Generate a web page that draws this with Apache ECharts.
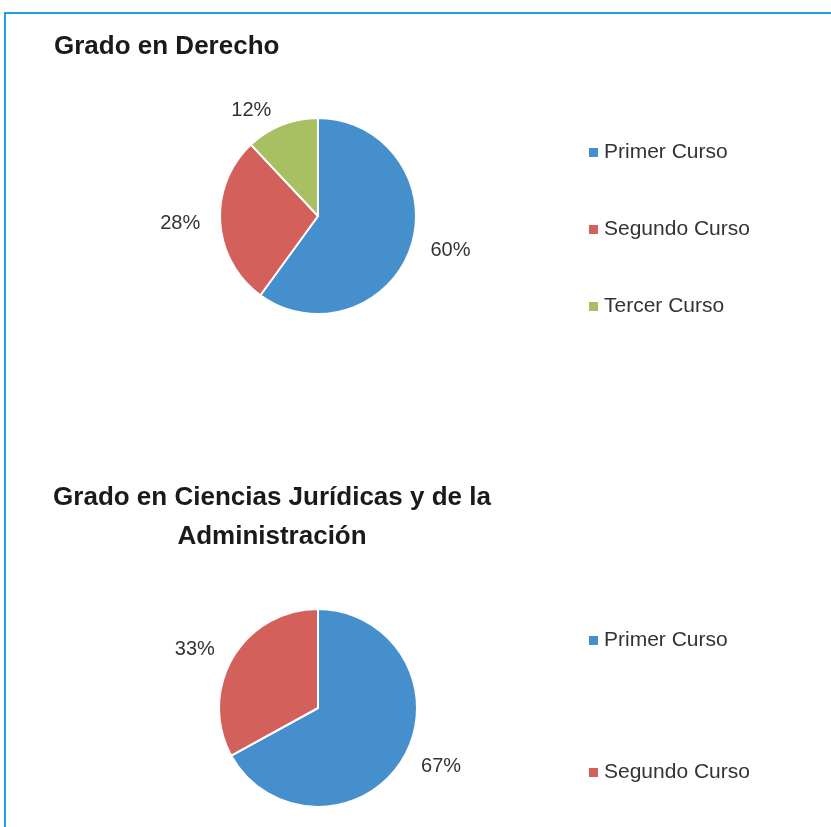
<!DOCTYPE html>
<html>
<head>
<meta charset="utf-8">
<script src="https://cdn.jsdelivr.net/npm/echarts@6/dist/echarts.min.js"></script>
<style>
  html, body { margin: 0; padding: 0; background: #ffffff; }
  #chart { width: 831px; height: 827px; }
</style>
</head>
<body>
<div id="chart"></div>
<script>
// data
var cursos = ['Primer Curso', 'Segundo Curso', 'Tercer Curso'];
var derecho = [60, 28, 12];
var cursosCJA = ['Primer Curso', 'Segundo Curso'];
var cienciasJA = [67, 33];
var titles = ['Grado en Derecho', 'Grado en Ciencias Jurídicas y de la\nAdministración'];

var colors = ['#4590cc', '#d4605b', '#a8bf62'];
var fontFam = '"Liberation Sans", Arial, sans-serif';

function toData(names, vals) {
  return names.map(function (n, i) {
    return { name: n, value: vals[i], itemStyle: { color: colors[i] } };
  });
}

var pieLabel = {
  show: true,
  position: 'outside',
  formatter: '{c}%',
  fontSize: 20,
  fontFamily: fontFam,
  color: '#333333'
};

var legendText = { fontSize: 21, fontFamily: fontFam, color: '#333333' };

var chart = echarts.init(document.getElementById('chart'));
var option = {
  backgroundColor: '#ffffff',
  animation: false,
  title: [
    {
      text: titles[0],
      left: 54,
      top: 32,
      padding: 0,
      textStyle: { fontSize: 26, fontWeight: 'bold', fontFamily: fontFam, color: '#1a1a1a', lineHeight: 30 }
    },
    {
      text: titles[1],
      left: 272,
      top: 478,
      padding: 0,
      textAlign: 'center',
      textStyle: { fontSize: 26, fontWeight: 'bold', fontFamily: fontFam, color: '#1a1a1a', lineHeight: 39 }
    }
  ],
  legend: [
    {
      data: cursos,
      orient: 'vertical',
      left: 587,
      top: 142,
      padding: 0,
      itemGap: 56,
      icon: 'rect',
      itemWidth: 11,
      itemHeight: 11,
      textStyle: legendText
    },
    {
      data: cursosCJA,
      orient: 'vertical',
      left: 587,
      top: 630,
      padding: 0,
      itemGap: 111,
      icon: 'rect',
      itemWidth: 11,
      itemHeight: 11,
      textStyle: legendText
    }
  ],
  graphic: [
    {
      type: 'polyline',
      shape: { points: [[5, 827], [5, 13], [831, 13]] },
      style: { stroke: '#1ea0e0', lineWidth: 2, fill: null }
    }
  ],
  series: [
    {
      name: titles[0],
      type: 'pie',
      center: [318, 216],
      radius: [0, 98],
      startAngle: 90,
      clockwise: true,
      avoidLabelOverlap: false,
      itemStyle: { borderColor: '#ffffff', borderWidth: 2 },
      label: pieLabel,
      labelLine: { show: false, length: 15, length2: 0 },
      emphasis: { disabled: true },
      data: toData(cursos, derecho)
    },
    {
      name: titles[1],
      type: 'pie',
      center: [318, 708],
      radius: [0, 99],
      startAngle: 90,
      clockwise: true,
      avoidLabelOverlap: false,
      itemStyle: { borderColor: '#ffffff', borderWidth: 2 },
      label: pieLabel,
      labelLine: { show: false, length: 15, length2: 0 },
      emphasis: { disabled: true },
      data: toData(cursosCJA, cienciasJA)
    }
  ]
};
chart.setOption(option);
</script>
</body>
</html>
